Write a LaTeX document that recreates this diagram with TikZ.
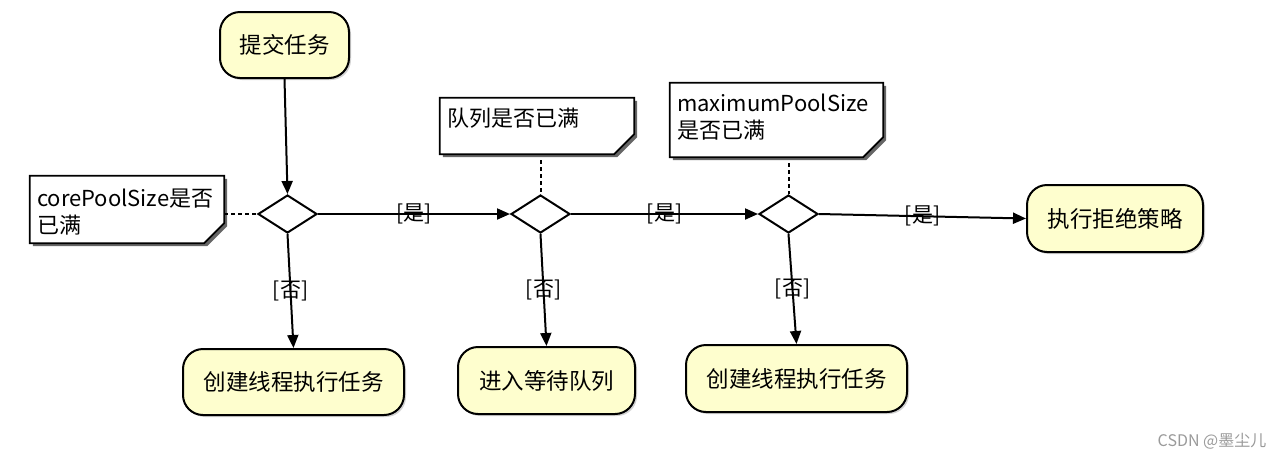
\documentclass[tikz,border=0pt]{standalone}
\usepackage{fontspec}
\setmainfont{Noto Sans CJK SC}
\usetikzlibrary{arrows.meta,shapes.geometric,shadows,calc}
\definecolor{boxfill}{HTML}{FEFECE}
\definecolor{wm}{HTML}{9A9A9A}
\newcommand{\drawnote}[1]{%
  \fill[black!60] ([shift={(3,3)}]#1.north west) -- ([shift={(3,3)}]#1.north east) -- ([shift={(3,3)}]$(#1.south east)+(0,-20)$) -- ([shift={(3,3)}]$(#1.south east)+(-20,0)$) -- ([shift={(3,3)}]#1.south west) -- cycle;
  \draw[line width=1.8pt,fill=white] (#1.north west) -- (#1.north east) -- ($(#1.south east)+(0,-20)$) -- ($(#1.south east)+(-20,0)$) -- (#1.south west) -- cycle;
}
\begin{document}
\begin{tikzpicture}[x=1pt,y=-1pt,
  act/.style={draw,line width=2pt,fill=boxfill,rounded corners=20pt,inner sep=0pt,
    font=\fontsize{22.5}{26}\selectfont,
    drop shadow={shadow xshift=2pt,shadow yshift=-2pt,fill=black!35}},
  dec/.style={draw,line width=2pt,fill=white,diamond,inner sep=0pt,minimum width=59pt,minimum height=38pt},
  notetext/.style={inner xsep=7pt,inner ysep=0pt,align=left,font=\fontsize{22}{27}\selectfont},
  flow/.style={line width=2pt,-{Triangle[length=13pt,width=11pt]}},
  dashline/.style={line width=2pt,dash pattern=on 4pt off 3pt},
  lbl/.style={inner sep=0pt,font=\fontsize{21}{23}\selectfont}]
\useasboundingbox (0,0) rectangle (1280,459);

% activity boxes
\node[act,minimum width=129pt,minimum height=66pt] (submit) at (284.5,45) {提交任务};
\node[act,minimum width=176pt,minimum height=67pt] (reject) at (1115,218.5) {执行拒绝策略};
\node[act,minimum width=221pt,minimum height=66pt] (b1) at (293.5,382) {创建线程执行任务};
\node[act,minimum width=177pt,minimum height=67pt] (b2) at (546.5,380.5) {进入等待队列};
\node[act,minimum width=221pt,minimum height=67pt] (b3) at (796.5,378.5) {创建线程执行任务};

% decisions
\node[dec] (d1) at (287.5,214) {};
\node[dec] (d2) at (540.5,214) {};
\node[dec] (d3) at (788.5,214) {};

% notes
\node[notetext,minimum width=194pt,minimum height=67pt,text width=180pt] (n1) at (127,209.5) {};
\node[notetext,minimum width=194pt,minimum height=56pt,text width=180pt] (n2) at (537,126) {};
\node[notetext,minimum width=213pt,minimum height=74pt,text width=199pt] (n3) at (776.5,120) {};
\drawnote{n1}
\drawnote{n2}
\drawnote{n3}
\node[notetext,text width=182pt] (t1) at ([xshift=1pt,yshift=-3pt]n1) {corePoolSize是否\\已满};
\node[notetext,text width=180pt] (t2) at ([yshift=8pt]n2) {队列是否已满};
\node[notetext,text width=199pt] (t3) at ([yshift=3pt]n3) {maximumPoolSize\\是否已满};

% dashed note links
\draw[dashline] (d1.west -| n1.east) -- (d1.west);
\draw[dashline] ([yshift=-6pt]n2.south -| d2.north) -- (d2.north);
\draw[dashline] ([yshift=-6pt]n3.south -| d3.north) -- (d3.north);

% flows
\draw[flow] (submit.south) -- (d1.north);
\draw[flow] (d1.east) -- node[lbl]{[是]} (d2.west);
\draw[flow] (d2.east) -- node[lbl]{[是]} (d3.west);
\draw[flow] (d3.east) -- node[lbl]{[是]} (reject.west);
\draw[flow] (d1.south) -- node[lbl]{[否]} (b1.north);
\draw[flow] (d2.south) -- node[lbl]{[否]} (b2.north);
\draw[flow] (d3.south) -- node[lbl]{[否]} (b3.north);

% watermark
\node[inner sep=0pt,text=wm,font=\fontsize{16}{18}\selectfont] (wmark) at (1212,441) {CSDN @墨尘儿};
\end{tikzpicture}
\end{document}
